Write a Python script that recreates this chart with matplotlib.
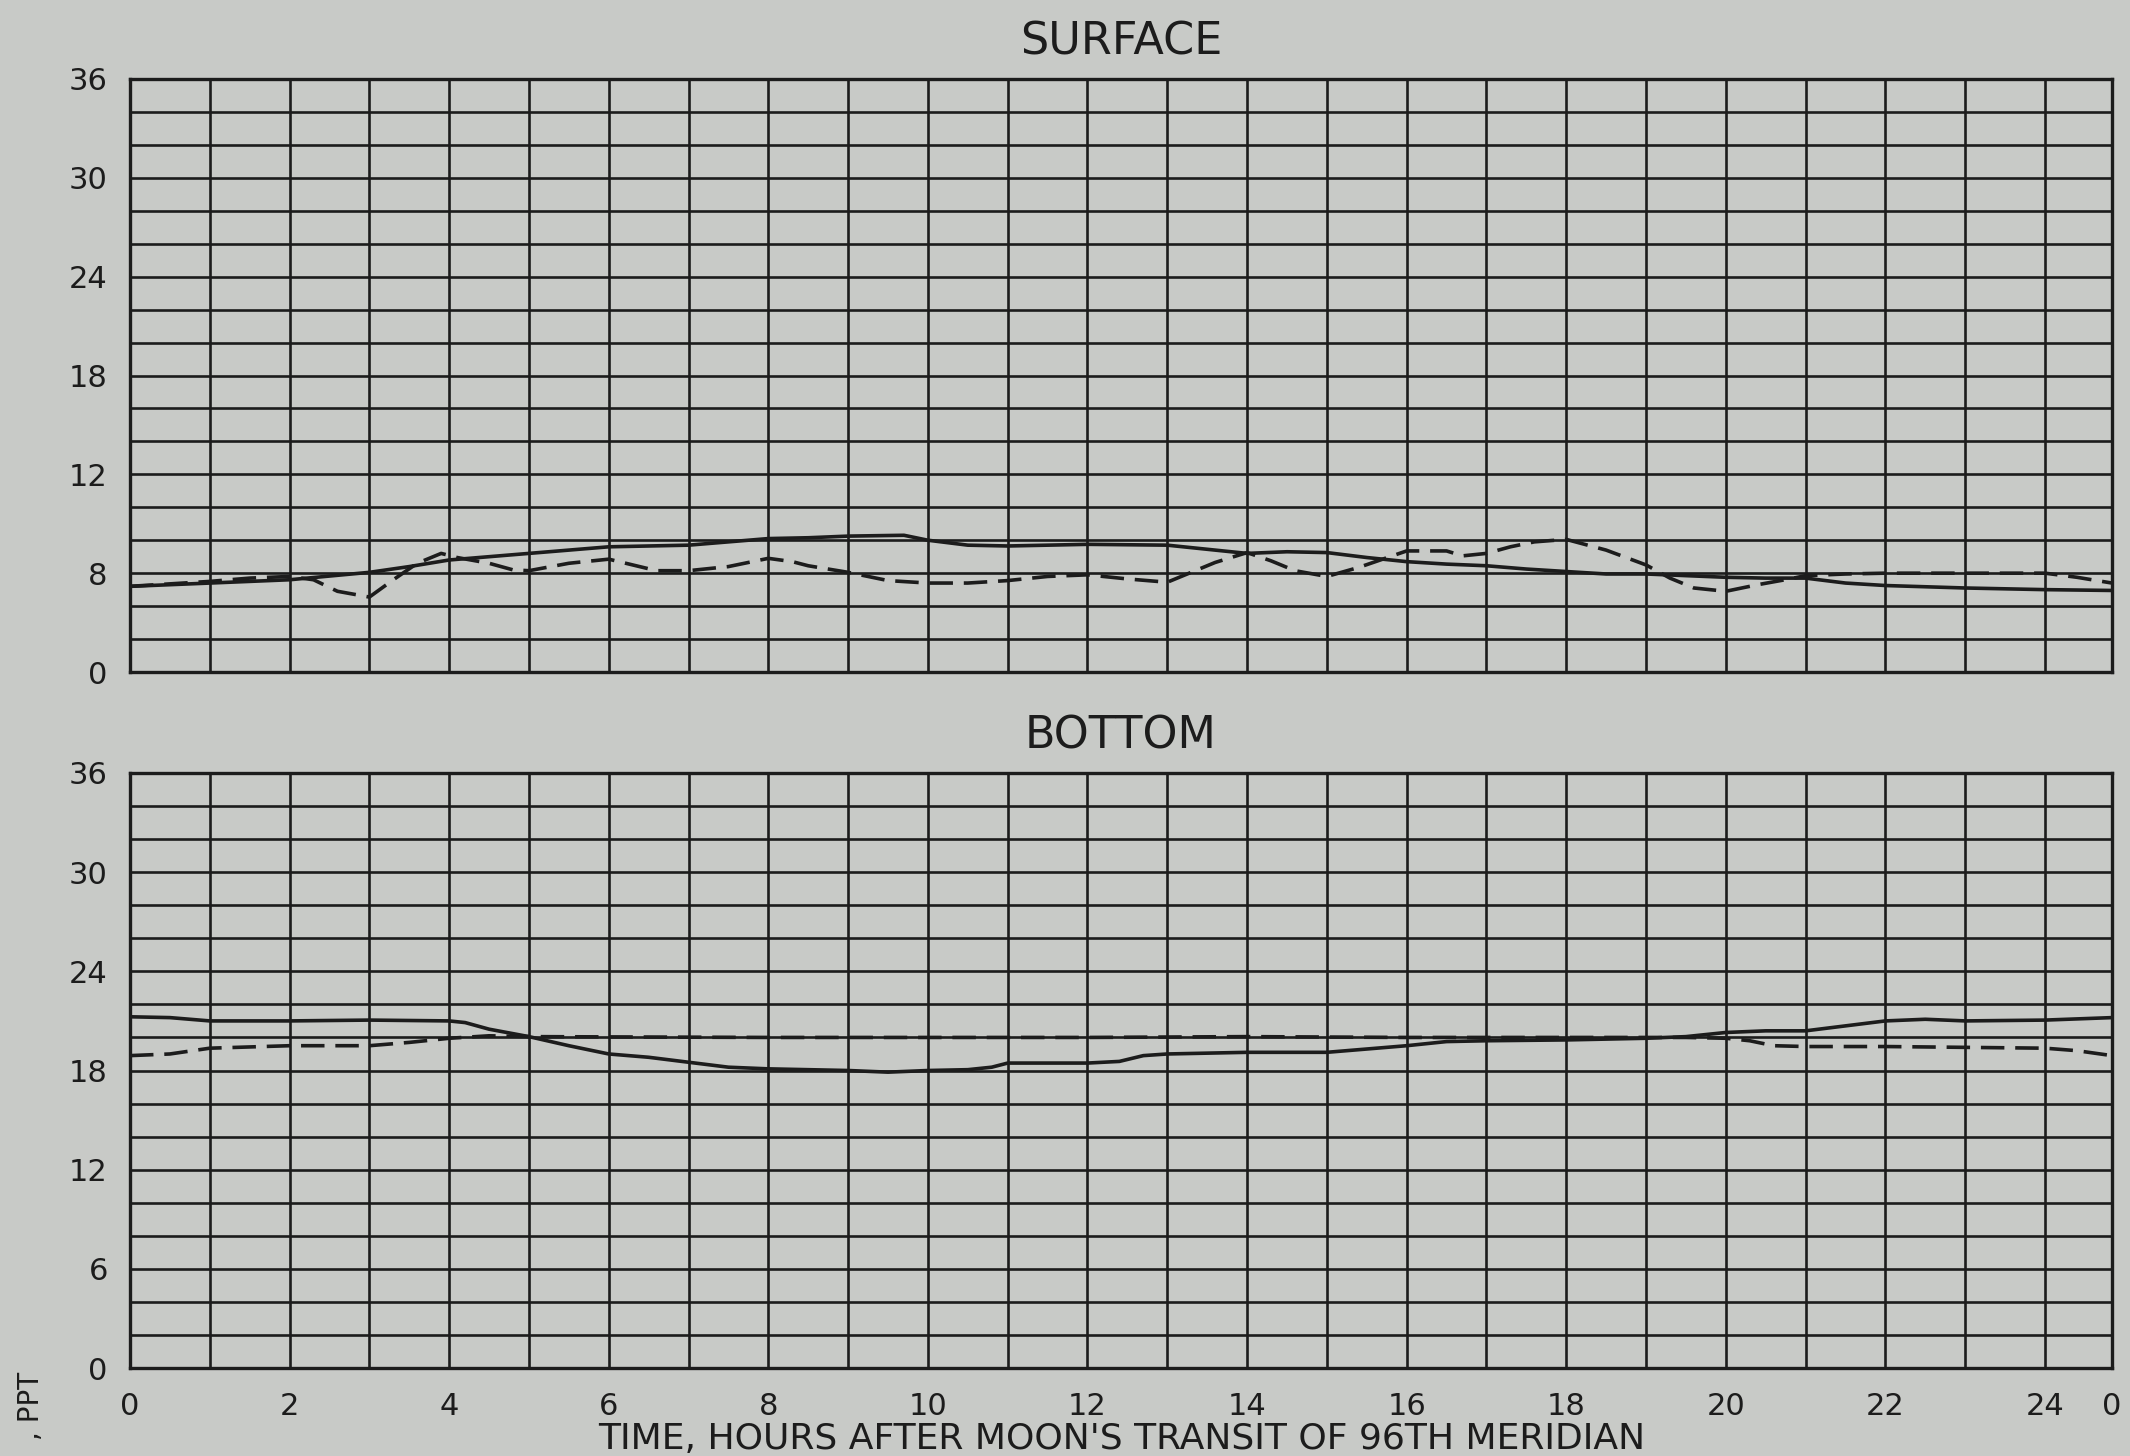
import numpy as np
import matplotlib
matplotlib.use("Agg")
import matplotlib.pyplot as plt

# Hours after the moon's transit; the lunar day ends at 24.84 h
surf_solid_hours = [0, 1, 2, 3, 3.5, 4, 5, 6, 7, 7.5, 8, 8.5, 9, 9.7, 10, 10.5, 11, 12, 13,
                    13.5, 14, 14.5, 15, 15.5, 16, 16.5, 17, 17.5, 18, 18.5, 19, 19.5, 20,
                    20.5, 21, 21.5, 22, 23, 24, 24.84]
surf_solid_ppt = [5.2, 5.4, 5.6, 6.05, 6.4, 6.8, 7.2, 7.6, 7.7, 7.9, 8.1, 8.15, 8.25, 8.3,
                  8.0, 7.7, 7.65, 7.75, 7.7, 7.45, 7.2, 7.3, 7.25, 6.95, 6.7, 6.55, 6.45,
                  6.25, 6.1, 5.95, 5.95, 5.85, 5.75, 5.7, 5.7, 5.4, 5.25, 5.1, 5.0, 4.95]

surf_dash_hours = [0, 1, 1.5, 2, 2.3, 2.6, 3, 3.3, 3.6, 3.9, 4.1, 4.5, 4.8, 5, 5.5, 6, 6.3,
                   6.6, 7, 7.5, 8, 8.3, 8.5, 9, 9.5, 10, 10.5, 11, 11.5, 12, 12.5, 13, 13.3,
                   13.6, 14, 14.3, 14.6, 15, 15.4, 15.7, 16, 16.5, 16.7, 17, 17.3, 17.6, 18,
                   18.5, 19, 19.3, 19.6, 20, 20.4, 20.8, 21, 21.5, 22, 23, 24, 24.4, 24.84]
surf_dash_ppt = [5.2, 5.5, 5.7, 5.8, 5.6, 4.9, 4.55, 5.6, 6.6, 7.2, 6.95, 6.6, 6.2, 6.15,
                 6.6, 6.85, 6.5, 6.15, 6.15, 6.4, 6.9, 6.7, 6.45, 6.05, 5.55, 5.4, 5.4,
                 5.55, 5.8, 5.9, 5.65, 5.45, 6.05, 6.65, 7.25, 6.75, 6.15, 5.8, 6.35, 6.85,
                 7.35, 7.35, 7.05, 7.2, 7.6, 7.9, 8.05, 7.4, 6.5, 5.7, 5.1, 4.9, 5.3, 5.65,
                 5.85, 5.95, 6.0, 6.0, 6.0, 5.75, 5.4]

bot_solid_hours = [0, 0.5, 1, 2, 3, 4, 4.2, 4.5, 5, 5.5, 6, 6.5, 7, 7.5, 8, 9, 9.5, 10,
                   10.5, 10.8, 11, 12, 12.4, 12.7, 13, 14, 15, 15.5, 16, 16.5, 17, 18, 19,
                   19.5, 20, 20.5, 21, 21.5, 22, 22.5, 23, 24, 24.84]
bot_solid_ppt = [21.25, 21.2, 21.0, 21.0, 21.05, 21.0, 20.9, 20.5, 20.05, 19.5, 19.0, 18.8,
                 18.5, 18.2, 18.1, 18.0, 17.9, 18.0, 18.05, 18.2, 18.45, 18.45, 18.55, 18.9,
                 19.0, 19.1, 19.1, 19.3, 19.5, 19.75, 19.8, 19.85, 19.95, 20.05, 20.3, 20.4,
                 20.4, 20.7, 21.0, 21.1, 21.0, 21.05, 21.2]

bot_dash_hours = [0, 0.5, 1, 2, 3, 3.5, 4, 4.5, 5, 8, 10, 12, 14, 16, 18, 19.5, 20, 20.3,
                  20.6, 21, 22, 23, 24, 24.4, 24.84]
bot_dash_ppt = [18.9, 19.0, 19.35, 19.5, 19.5, 19.7, 19.95, 20.1, 20.05, 20.0, 20.0, 20.0,
                20.05, 20.0, 20.0, 20.0, 19.95, 19.8, 19.5, 19.45, 19.45, 19.4, 19.35,
                19.2, 18.9]

x_tick_pos = [0, 2, 4, 6, 8, 10, 12, 14, 16, 18, 20, 22, 24, 24.84]
x_tick_text = ["0", "2", "4", "6", "8", "10", "12", "14", "16", "18", "20", "22", "24", "0"]
y_tick_pos = [0, 6, 12, 18, 24, 30, 36]
surf_y_text = ["0", "8", "12", "18", "24", "30", "36"]
bot_y_text = ["0", "6", "12", "18", "24", "30", "36"]

PAPER = "#c8cac7"
INK = "#1c1c1c"
W, H = 2130, 1456

plt.rcParams["font.family"] = ["DejaVu Sans"]
fig = plt.figure(figsize=(W / 100, H / 100), dpi=100, facecolor=PAPER)

left, right = 130 / W, 2112 / W
ax_top = fig.add_axes([left, (H - 672) / H, right - left, 593 / H])
ax_bot = fig.add_axes([left, (H - 1368) / H, right - left, 595 / H])


def style_panel(ax, ylabels, title, show_x):
    ax.set_facecolor(PAPER)
    ax.set_xlim(0, 24.84)
    ax.set_ylim(0, 36)
    # one-hour by two-ppt chart grid
    for h in np.arange(1, 25):
        ax.axvline(h, color=INK, lw=1.9, zorder=1)
    for v in np.arange(2, 36, 2):
        ax.axhline(v, color=INK, lw=1.9, zorder=1)
    ax.set_yticks(y_tick_pos)
    ax.set_yticklabels(ylabels)
    ax.set_xticks(x_tick_pos)
    if show_x:
        ax.set_xticklabels(x_tick_text)
    else:
        ax.set_xticklabels([])
    ax.tick_params(which="both", length=0, labelsize=22, colors=INK)
    ax.tick_params(axis="y", pad=16)
    ax.tick_params(axis="x", pad=17)
    for s in ax.spines.values():
        s.set_color(INK)
        s.set_linewidth(2.4)
    ax.text(0.5, 1 + 37 / 594, title, transform=ax.transAxes, ha="center",
            va="center", fontsize=32, color=INK)


style_panel(ax_top, surf_y_text, "SURFACE", False)
style_panel(ax_bot, bot_y_text, "BOTTOM", True)

line_kw = dict(color=INK, lw=2.6, solid_capstyle="round", zorder=3)
ax_top.plot(surf_solid_hours, surf_solid_ppt, **line_kw)
ax_top.plot(surf_dash_hours, surf_dash_ppt, dashes=(6.5, 3), **line_kw)
ax_bot.plot(bot_solid_hours, bot_solid_ppt, **line_kw)
ax_bot.plot(bot_dash_hours, bot_dash_ppt, dashes=(6.5, 3), **line_kw)

fig.text(1122 / W, (H - 1439) / H, "TIME, HOURS AFTER MOON'S TRANSIT OF 96TH MERIDIAN",
         ha="center", va="center", fontsize=26, color=INK)
fig.text(31 / W, (H - 1372) / H, ", PPT", rotation=90, ha="center", va="top",
         fontsize=20, color=INK)

fig.savefig("out.png", dpi=100, facecolor=PAPER)
